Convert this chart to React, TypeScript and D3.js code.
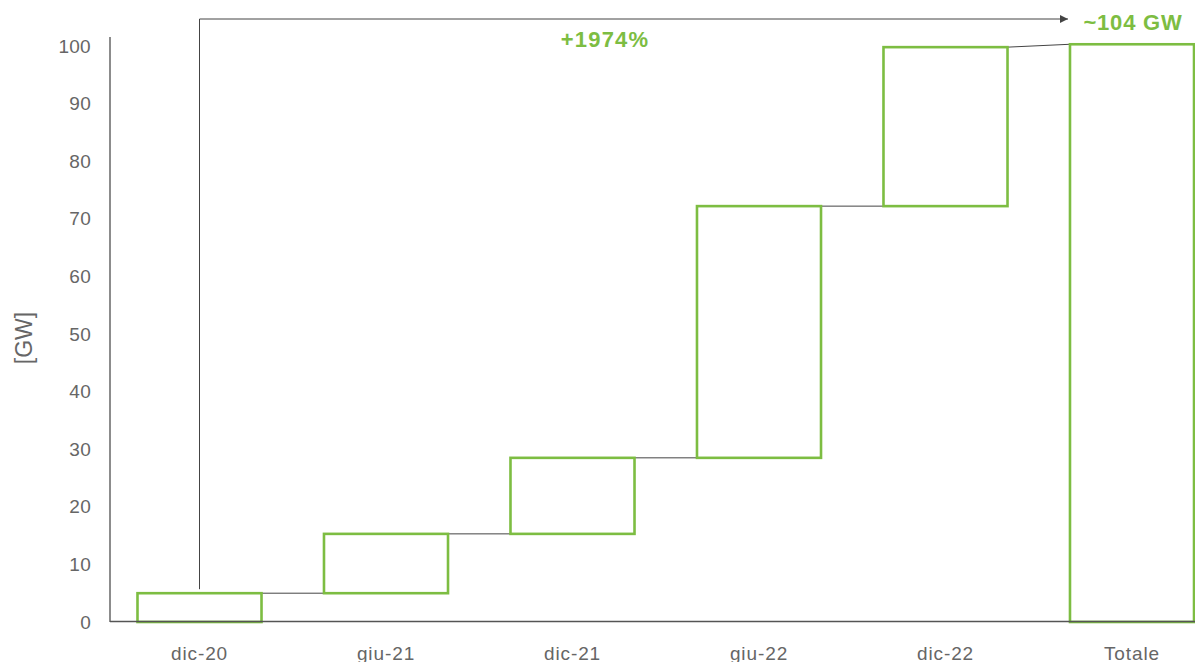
import React from "react";
import * as d3 from "d3";

const categories = ["dic-20", "giu-21", "dic-21", "giu-22", "dic-22", "Totale"];
const starts = [0, 5.0, 15.3, 28.5, 72.2, 0];
const ends = [5.0, 15.3, 28.5, 72.2, 99.8, 100.3];
const yTicks = [0, 10, 20, 30, 40, 50, 60, 70, 80, 90, 100];
const growthLabel = "+1974%";
const totalLabel = "~104 GW";
const yAxisTitle = "[GW]";

const W = 1195;
const H = 662;
const green = "#7dbd42";
const grid = "#555";
const tickColor = "#666";
const font = "'Liberation Sans', Arial, sans-serif";

export default function App() {
  const x = d3
    .scaleBand<string>()
    .domain(categories)
    .range([106.25, 1225.25])
    .paddingInner(0.335)
    .paddingOuter(0.1675);
  const y = d3.scaleLinear().domain([0, 100]).range([622, 46]);
  const bw = x.bandwidth();

  const first = categories[0];
  const last = categories[categories.length - 1];
  const arrowX = (x(first) as number) + bw / 2;
  const arrowTopY = 19;
  const arrowEndX = (x(last) as number) - 2;

  return (
    <svg
      width={W}
      height={H}
      style={{ position: "absolute", left: 0, top: 0, background: "#fff" }}
      fontFamily={font}
    >
      <defs>
        <marker id="ah" viewBox="0 0 10 10" refX="10" refY="5" markerWidth="12" markerHeight="8" markerUnits="userSpaceOnUse" orient="auto">
          <path d="M0,0 L10,5 L0,10 z" fill="#444" />
        </marker>
      </defs>

      {/* y axis */}
      <line x1={110} x2={110} y1={37} y2={622} stroke={tickColor} strokeWidth={1.5} />
      {yTicks.map((t) => (
        <text key={t} x={91} y={y(t)} dy="0.35em" textAnchor="end" fontSize={19} letterSpacing={0.3} fill={tickColor}>
          {t}
        </text>
      ))}
      <text
        transform={`translate(32, ${338}) rotate(-90)`}
        textAnchor="middle"
        fontSize={23}
        fill={tickColor}
      >
        {yAxisTitle}
      </text>

      {/* connectors */}
      {categories.slice(0, -1).map((c, i) => {
        const x1 = (x(c) as number) + bw;
        const x2 = x(categories[i + 1]) as number;
        const nextIsTotal = i + 1 === categories.length - 1;
        const yTo = nextIsTotal ? y(ends[i + 1]) : y(starts[i + 1]);
        return <line key={c} x1={x1} x2={x2} y1={y(ends[i])} y2={yTo} stroke="#444" strokeWidth={1} />;
      })}

      {/* bars */}
      {categories.map((c, i) => (
        <rect
          key={c}
          x={x(c) as number}
          y={y(ends[i])}
          width={bw}
          height={y(starts[i]) - y(ends[i])}
          fill="none"
          stroke={green}
          strokeWidth={2.6}
        />
      ))}

      {/* x axis */}
      <line x1={110} x2={W} y1={621.5} y2={621.5} stroke={grid} strokeWidth={1.5} />
      {categories.map((c) => (
        <text key={c} x={(x(c) as number) + bw / 2} y={660} textAnchor="middle" fontSize={19} letterSpacing={0.9} fill={tickColor}>
          {c}
        </text>
      ))}

      {/* growth arrow */}
      <path
        d={`M${arrowX},${y(ends[0]) - 4} L${arrowX},${arrowTopY} L${arrowEndX},${arrowTopY}`}
        fill="none"
        stroke="#444"
        strokeWidth={1}
        markerEnd="url(#ah)"
      />
      <text x={605} y={47} textAnchor="middle" fontSize={22} fontWeight={700} letterSpacing={1.2} fill={green}>
        {growthLabel}
      </text>
      <text x={1133} y={30} textAnchor="middle" fontSize={22} fontWeight={700} letterSpacing={0.8} fill={green}>
        {totalLabel}
      </text>
    </svg>
  );
}
